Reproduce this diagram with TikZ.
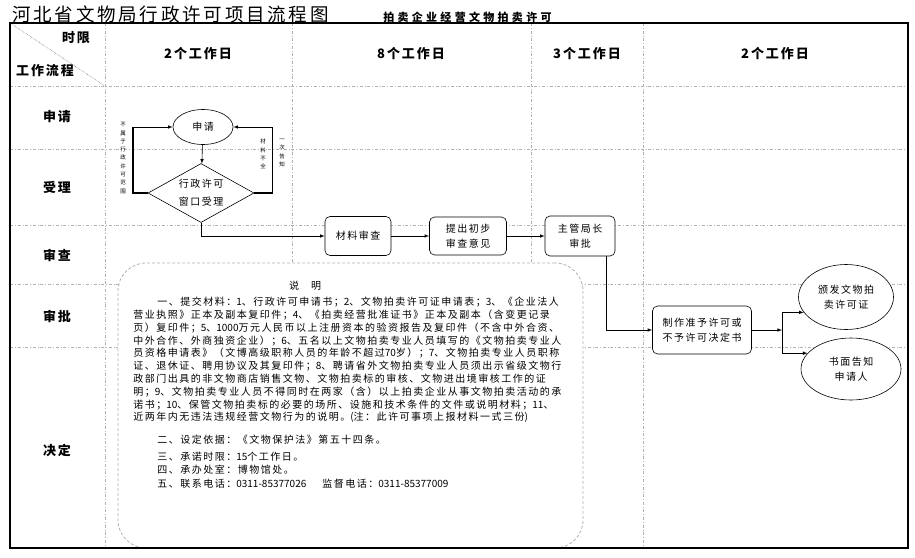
\documentclass[tikz,border=0pt]{standalone}
\usepackage{fontspec}
\setmainfont{Noto Sans CJK SC}[LetterSpace=15]
\newfontfamily\plainnum{Noto Sans CJK SC}
\newcommand{\nb}[1]{{\plainnum #1}}
\usetikzlibrary{shapes.geometric}
\tikzset{
  gridline/.style={gray!60, dash dot, line width=0.7pt},
  head/.style={font=\fontsize{13}{15}\selectfont\bfseries},
  oval/.style={ellipse, draw, fill=white, inner sep=0pt, align=center, font=\fontsize{10}{15}\selectfont},
  box/.style={rectangle, draw, rounded corners=5pt, fill=white, inner sep=0pt, align=center, font=\fontsize{10}{15}\selectfont},
  decision/.style={diamond, draw, fill=white, inner sep=0pt, aspect=1.8, align=center, font=\fontsize{10}{18}\selectfont},
  vlabel/.style={inner sep=0pt, align=center, font=\fontsize{5.5}{8.3}\selectfont},
  notebox/.style={draw=gray!60, dash pattern=on 3pt off 2pt, line width=0.8pt, rounded corners=28pt, fill=white},
}
\begin{document}
\begin{tikzpicture}[x=1pt, y=-1pt, >=latex, semithick]
        \useasboundingbox (0,0) rectangle (915,557);
        \node[anchor=base west, inner sep=0pt, font=\fontsize{18.5}{20}\selectfont] (t) at (12,21) {河北省文物局行政许可项目流程图};
        \node[anchor=base west, inner sep=0pt, font=\fontsize{11}{13}\selectfont\bfseries\addfontfeatures{LetterSpace=30}] (s) at (383,21) {拍卖企业经营文物拍卖许可};
        \draw[gridline] (10,86) -- (908,86) (10,149) -- (908,149) (10,225) -- (908,225) (10,284) -- (908,284) (10,347) -- (908,347);
        \draw[gridline] (105,23) -- (105,548) (292,23) -- (292,548) (531,23) -- (531,548) (643,23) -- (643,548);
        \draw[gray, densely dotted] (10,23) -- (105,86);
        \node[head] (h0) at (76,38) {时限};
        \node[head] (h00) at (45,71) {工作流程};
        \node[head] (h1) at (198,54) {2个工作日};
        \node[head] (h2) at (411,54) {8个工作日};
        \node[head] (h3) at (587,54) {3个工作日};
        \node[head] (h4) at (775,54) {2个工作日};
        \node[head] (r1) at (57,117) {申请};
        \node[head] (r2) at (57,187) {受理};
        \node[head] (r3) at (57,255) {审查};
        \node[head] (r4) at (57,316) {审批};
        \node[head] (r5) at (57,450) {决定};
        \node[notebox, minimum width=465, minimum height=285] (9) at (350.5,405.5) {};
        \node[font=\fontsize{10}{12}\selectfont] (10) at (305,286) {说\hspace{12pt}明};
        \node[anchor=north west, inner sep=0pt, align=left, font=\fontsize{10}{12.8}\selectfont] (11) at (133,297) {\hspace*{24pt}一、提交材料：\nb{1}、行政许可申请书；\nb{2}、文物拍卖许可证申请表；\nb{3}、《企业法人\\
营业执照》正本及副本复印件；\nb{4}、《拍卖经营批准证书》正本及副本（含变更记录\\
页）复印件；\nb{5}、\nb{1000}万元人民币以上注册资本的验资报告及复印件（不含中外合资、\\
中外合作、外商独资企业）；\nb{6}、五名以上文物拍卖专业人员填写的《文物拍卖专业人\\
员资格申请表》（文博高级职称人员的年龄不超过\nb{70}岁）；\nb{7}、文物拍卖专业人员职称\\
证、退休证、聘用协议及其复印件；\nb{8}、聘请省外文物拍卖专业人员须出示省级文物行\\
政部门出具的非文物商店销售文物、文物拍卖标的审核、文物进出境审核工作的证\\
明；\nb{9}、文物拍卖专业人员不得同时在两家（含）以上拍卖企业从事文物拍卖活动的承\\
诺书；\nb{10}、保管文物拍卖标的必要的场所、设施和技术条件的文件或说明材料；\nb{11}、\\
近两年内无违法违规经营文物行为的说明。\nb{(}注：此许可事项上报材料一式三份\nb{)}\\[10pt]
\hspace*{24pt}二、设定依据：《文物保护法》第五十四条。\\[4pt]
\hspace*{24pt}三、承诺时限：\nb{15}个工作日。\\
\hspace*{24pt}四、承办处室：博物馆处。\\[1pt]
\hspace*{24pt}五、联系电话：\nb{0311-85377026}\hspace{16pt}监督电话：\nb{0311-85377009}};
        \node[oval, minimum width=60, minimum height=35] (1) at (203,127) {申请};
        \node[decision, minimum width=106, minimum height=59] (2) at (201,193) {行政许可\\窗口受理};
        \node[box, minimum width=66, minimum height=39] (3) at (358,236) {材料审查};
        \node[box, minimum width=77, minimum height=38] (4) at (468,236) {提出初步\\审查意见};
        \node[box, minimum width=70, minimum height=40] (5) at (580,236) {主管局长\\审批};
        \node[box, minimum width=99, minimum height=48] (6) at (702,330) {制作准予许可或\\不予许可决定书};
        \node[oval, minimum width=95, minimum height=65] (7) at (846,297) {颁发文物拍\\卖许可证};
        \node[oval, minimum width=100, minimum height=62] (8) at (851,369) {书面告知\\申请人};
        \node[vlabel] (l1) at (123,158) {不\\属\\于\\行\\政\\许\\可\\范\\围};
        \node[vlabel] (l2) at (263,154) {材\\料\\不\\全};
        \node[vlabel] (l3) at (282,153) {一\\次\\告\\知};
        \coordinate (f) at (782,330);
        \draw[->] (1) -- (2);
        \draw[line width=2pt] (2.west) -- ++(-15,0) -- ++(0,-66);
        \draw[->] (2.west) -- ++(-15,0) |- (1.west);
        \draw[line width=2pt] (2.east) -- ++(18,0);
        \draw[->] (2.east) -- ++(18,0) |- (1.east);
        \draw[->] (2.south) |- (3.west);
        \draw[->] (3) -- (4);
        \draw[->] (4) -- (5);
        \draw[->] (5.-38) |- (6.west);
        \draw[->] (6.east) -- (f);
        \draw[->] (f) |- (7.200);
        \draw[->] (f) |- (8.160);
        \draw[line width=2.5pt] (10,23) rectangle (908,548);
      \end{tikzpicture}
\end{document}
